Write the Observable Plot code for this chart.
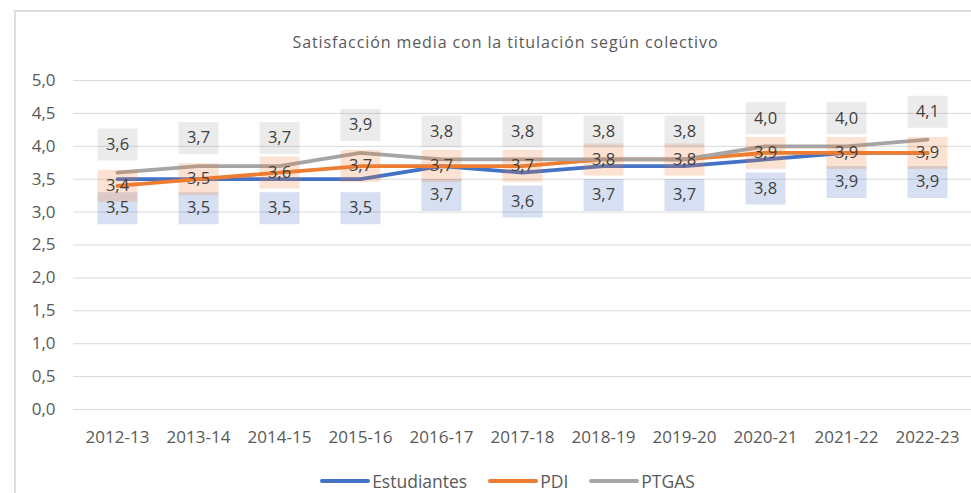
<!DOCTYPE html>
<html>
<head>
<meta charset="utf-8">
<script src="https://cdn.jsdelivr.net/npm/d3@7"></script>
<script src="https://cdn.jsdelivr.net/npm/@observablehq/plot@0.6"></script>
<style>
  body { margin: 0; background: #fff; font-family: "Open Sans", sans-serif; }
  #wrap { width: 971px; height: 493px; position: relative; overflow: hidden; }
  #frame { position: absolute; left: 14px; top: 10px; width: 1000px; height: 520px; border: 2px solid #dedede; box-sizing: border-box; pointer-events: none; }
  #title { height: 60px; box-sizing: border-box; padding-top: 32px; line-height: 20px; text-align: center; font-size: 16px; letter-spacing: 0.9px; color: #595959; padding-left: 40px; }
  #legend { display: flex; justify-content: center; align-items: center; gap: 21px; padding-top: 22px; line-height: 20px; font-size: 17.5px; color: #595959; padding-left: 44px; }
  .item { display: flex; align-items: center; gap: 2px; }
  .swatch { width: 50px; height: 4px; border-radius: 2px; }
</style>
</head>
<body>
<div id="wrap">
  <div id="frame"></div>
  <div id="title">Satisfacción media con la titulación según colectivo</div>
  <div id="chart"></div>
  <div id="legend"></div>
</div>
<script>
const years = ["2012-13","2013-14","2014-15","2015-16","2016-17","2017-18","2018-19","2019-20","2020-21","2021-22","2022-23"];
const estudiantes = [3.5,3.5,3.5,3.5,3.7,3.6,3.7,3.7,3.8,3.9,3.9];
const pdi = [3.4,3.5,3.6,3.7,3.7,3.7,3.8,3.8,3.9,3.9,3.9];
const ptgas = [3.6,3.7,3.7,3.9,3.8,3.8,3.8,3.8,4.0,4.0,4.1];
const seriesNames = ["Estudiantes","PDI","PTGAS"];
const seriesColors = ["#4472C4","#ED7D31","#A5A5A5"];
const yTicks = [0,0.5,1,1.5,2,2.5,3,3.5,4,4.5,5];

const seriesValues = [estudiantes, pdi, ptgas];
const rows = [];
seriesNames.forEach((s, i) => years.forEach((yr, j) => rows.push({serie: s, year: yr, value: seriesValues[i][j]})));
const fmt = d => d.toFixed(1).replace(".", ",");
const labelOffset = {Estudiantes: 29, PDI: 0, PTGAS: -28};

const box = {draw(ctx) { ctx.rect(-20, -16, 40, 32); }};

const marks = [
  Plot.ruleY(yTicks, {stroke: "#d9d9d9", strokeWidth: 1})
];
seriesNames.forEach((s, i) => {
  marks.push(Plot.line(rows.filter(r => r.serie === s), {x: "year", y: "value", stroke: seriesColors[i], strokeWidth: 3.8, strokeLinejoin: "round", strokeLinecap: "round"}));
});
seriesNames.forEach((s, i) => {
  marks.push(Plot.dot(rows.filter(r => r.serie === s), {x: "year", y: "value", symbol: box, fill: seriesColors[i], fillOpacity: 0.22, stroke: "none", dy: labelOffset[s]}));
});
seriesNames.forEach((s, i) => {
  marks.push(Plot.text(rows.filter(r => r.serie === s), {x: "year", y: "value", text: d => fmt(d.value), dy: labelOffset[s], fill: "#404040", fontSize: 16.5}));
});

const chart = Plot.plot({
  width: 971,
  height: 389,
  marginTop: 20,
  marginBottom: 40,
  marginLeft: 73,
  marginRight: 0,
  style: {fontFamily: "Open Sans, sans-serif", fontSize: "17px", color: "#595959", background: "transparent"},
  x: {type: "point", domain: years, padding: 0.5, label: null, tickSize: 0, tickPadding: 21},
  y: {domain: [0, 5], ticks: yTicks, tickFormat: fmt, label: null, tickSize: 0, tickPadding: 18},
  marks
});
document.getElementById("chart").appendChild(chart);

const legend = document.getElementById("legend");
seriesNames.forEach((s, i) => {
  const it = document.createElement("div");
  it.className = "item";
  const sw = document.createElement("div");
  sw.className = "swatch";
  sw.style.background = seriesColors[i];
  const t = document.createElement("span");
  t.textContent = s;
  it.appendChild(sw); it.appendChild(t);
  legend.appendChild(it);
});
</script>
</body>
</html>
